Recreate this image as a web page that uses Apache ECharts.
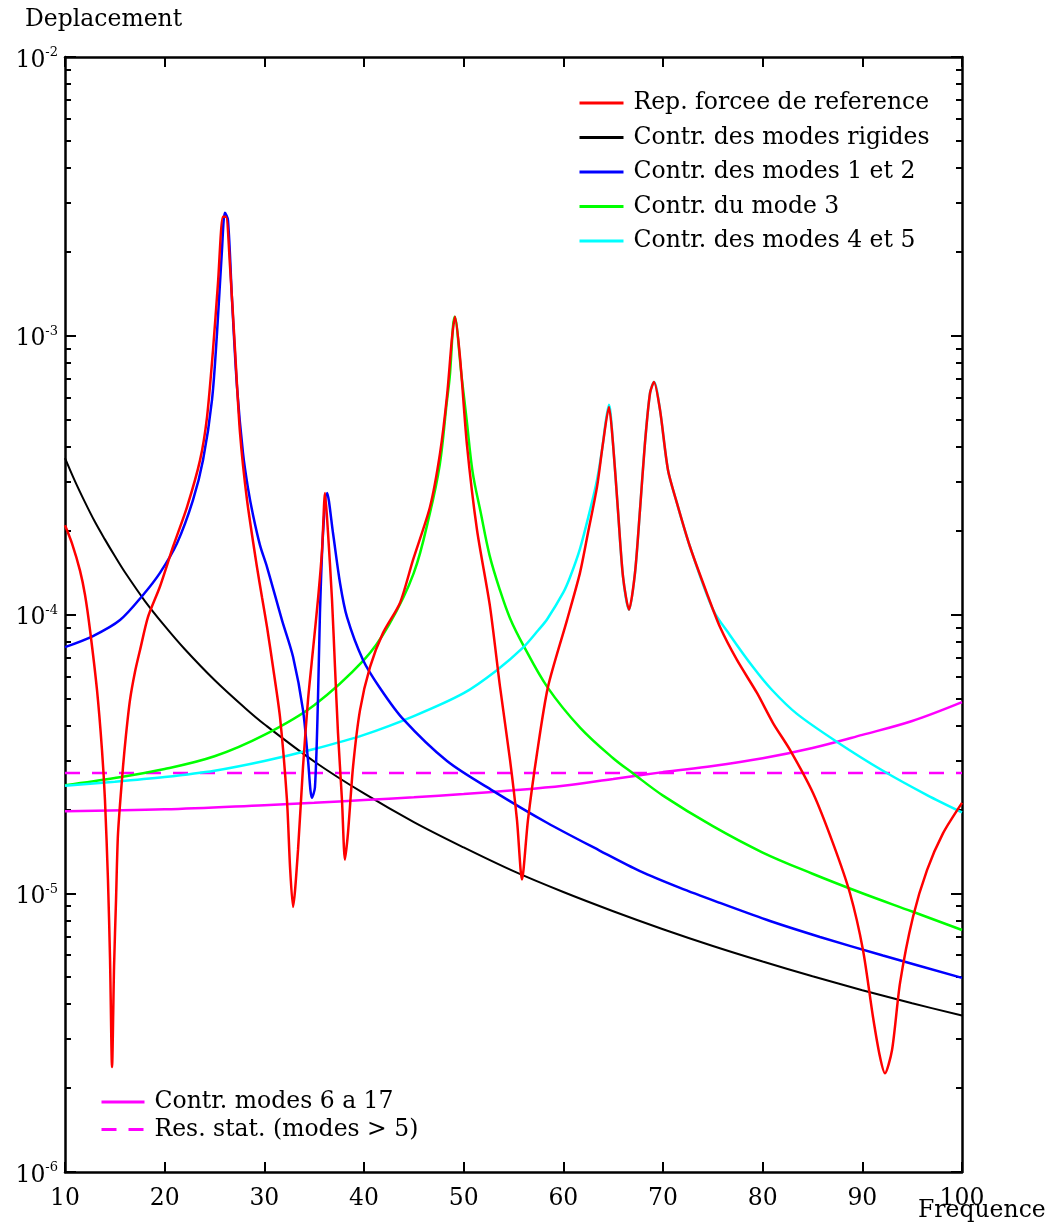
<!DOCTYPE html>
<html><head><meta charset="utf-8">
<script src="https://cdn.jsdelivr.net/npm/echarts@6/dist/echarts.min.js"></script>
<style>html,body{margin:0;padding:0;background:#fff}#c{width:1055px;height:1227px}</style>
</head><body><div id="c"></div>
<script>
const FONT = '"DejaVu Serif", serif';
const FS = 23.5;

// Frequency axis ticks
const xTicks = [10, 20, 30, 40, 50, 60, 70, 80, 90, 100];
// Log axis minor tick values (2..9 in each decade)
const yMinor = [2e-6,3e-6,4e-6,5e-6,6e-6,7e-6,8e-6,9e-6,
                2e-5,3e-5,4e-5,5e-5,6e-5,7e-5,8e-5,9e-5,
                2e-4,3e-4,4e-4,5e-4,6e-4,7e-4,8e-4,9e-4,
                2e-3,3e-3,4e-3,5e-3,6e-3,7e-3,8e-3,9e-3];

// Rep. forcee de reference (red)
const redF = [10.00,10.70,11.50,12.01,12.51,13.21,13.71,14.01,14.31,14.52,14.72,14.92,15.12,15.32,15.82,16.12,16.52,17.02,17.53,18.33,19.53,20.84,22.24,23.55,24.25,24.85,25.35,25.85,26.15,26.56,27.06,27.56,28.26,29.26,29.77,30.27,30.87,31.57,32.27,32.58,32.88,33.38,33.88,34.38,34.88,35.38,35.79,36.09,36.39,36.79,37.09,37.39,37.79,38.09,38.39,38.90,39.60,40.60,41.91,43.61,44.92,46.62,47.63,48.33,48.83,49.13,49.63,50.33,51.34,52.64,53.65,54.65,55.35,55.85,56.45,57.36,58.46,60.37,61.67,62.47,63.38,63.98,64.58,64.98,65.48,65.99,66.59,67.19,67.69,68.19,68.70,69.10,69.70,70.50,71.40,72.71,74.41,75.72,77.42,79.43,81.04,82.74,85.05,87.06,88.76,90.07,91.07,91.77,92.27,92.98,93.78,95.08,96.49,98.09,100];
const redV = [2.09e-4,1.80e-4,1.44e-4,1.175e-4,8.80e-5,5.36e-5,3.27e-5,2.16e-5,1.12e-5,5.77e-6,2.38e-6,5.43e-6,9.46e-6,1.64e-5,2.84e-5,3.70e-5,4.93e-5,6.22e-5,7.46e-5,9.80e-5,1.26e-4,1.75e-4,2.43e-4,3.58e-4,5.11e-4,8.89e-4,1.545e-3,2.67e-3,2.67e-3,1.77e-3,8.89e-4,4.48e-4,2.58e-4,1.48e-4,1.15e-4,9.02e-5,6.48e-5,4.29e-5,2.16e-5,1.24e-5,8.93e-6,1.43e-5,2.84e-5,4.93e-5,7.46e-5,1.13e-4,1.70e-4,2.73e-4,1.96e-4,1.13e-4,6.48e-5,3.76e-5,2.16e-5,1.32e-5,1.64e-5,2.84e-5,4.54e-5,6.48e-5,8.59e-5,1.10e-4,1.57e-4,2.43e-4,3.79e-4,6.08e-4,9.82e-4,1.17e-3,8.39e-4,4.06e-4,2.01e-4,1.07e-4,5.50e-5,3.01e-5,1.83e-5,1.12e-5,1.83e-5,3.18e-5,5.50e-5,9.55e-5,1.41e-4,1.96e-4,2.87e-4,4.12e-4,5.55e-4,4.12e-4,2.37e-4,1.365e-4,1.04e-4,1.41e-4,2.37e-4,4.12e-4,6.23e-4,6.83e-4,5.42e-4,3.30e-4,2.51e-4,1.75e-4,1.19e-4,9.02e-5,6.87e-5,5.23e-5,4.08e-5,3.27e-5,2.29e-5,1.51e-5,1.00e-5,6.25e-6,3.60e-6,2.59e-6,2.26e-6,2.74e-6,4.76e-6,8.22e-6,1.21e-5,1.64e-5,2.11e-5];

// Contr. des modes rigides (black)
const rigidF = [10,11,12,13,14,15,16,18,20,22,25,28,30,35,40,45,50,55,60,65,70,75,80,85,90,95,100];
const rigidV = [3.64e-4,3.01e-4,2.53e-4,2.15e-4,1.86e-4,1.62e-4,1.42e-4,1.12e-4,9.10e-5,7.52e-5,5.82e-5,4.64e-5,4.04e-5,2.97e-5,2.28e-5,1.80e-5,1.46e-5,1.20e-5,1.01e-5,8.62e-6,7.43e-6,6.47e-6,5.69e-6,5.04e-6,4.49e-6,4.03e-6,3.64e-6];

// Contr. des modes 1 et 2 (blue)
const m12F = [10.00,12.81,15.52,17.83,19.53,21.24,22.84,23.85,24.75,25.25,25.75,26.05,26.35,26.76,27.26,27.86,28.36,28.86,29.57,30.27,31.77,32.88,33.88,34.38,34.78,35.08,35.38,35.58,35.89,36.29,36.89,37.59,38.29,39.90,41.60,43.91,48.33,52.94,58.36,63.68,67.69,71.71,75.72,80.74,85.75,92.07,100];
const m12V = [7.64e-5,8.37e-5,9.55e-5,1.175e-4,1.41e-4,1.80e-4,2.57e-4,3.58e-4,5.89e-4,1.02e-3,2.03e-3,2.76e-3,2.60e-3,1.34e-3,6.54e-4,3.79e-4,2.84e-4,2.28e-4,1.77e-4,1.48e-4,9.55e-5,7.05e-5,4.54e-5,3.01e-5,2.20e-5,2.40e-5,4.93e-5,1.01e-4,1.96e-4,2.73e-4,1.96e-4,1.30e-4,9.80e-5,6.87e-5,5.45e-5,4.22e-5,2.98e-5,2.33e-5,1.79e-5,1.42e-5,1.20e-5,1.045e-5,9.23e-6,7.95e-6,6.97e-6,5.98e-6,4.97e-6];

// Contr. du mode 3 (green)
const m3F = [10,15,20,25,30,35,40,42.5,45,46.6,47.6,48.3,48.6,49.1,49.8,50.3,50.9,51.7,52.6,53.65,54.65,55.95,58.4,61.7,65,67,70,75,80,85,90,95,100];
const m3V = [2.44e-5,2.59e-5,2.79e-5,3.10e-5,3.70e-5,4.73e-5,6.87e-5,9.17e-5,1.41e-4,2.30e-4,3.44e-4,5.74e-4,7.11e-4,1.17e-3,7.11e-4,4.99e-4,3.24e-4,2.33e-4,1.63e-4,1.22e-4,9.7e-5,7.8e-5,5.49e-5,3.92e-5,3.05e-5,2.69e-5,2.24e-5,1.74e-5,1.40e-5,1.175e-5,1.00e-5,8.6e-6,7.38e-6];

// Contr. des modes 4 et 5 (cyan)
const m45F = [10,15,20,25,30,35,40,45,50,53.3,55.95,57.5,58.36,60,60.67,61.67,62.68,63.38,63.88,64.28,64.58,64.98,65.48,65.99,66.59,67.19,67.69,68.19,68.70,69.10,69.70,70.50,71.40,72.71,75.02,76.72,79.03,80.94,83.44,87.46,92.07,96.49,100];
const m45V = [2.43e-5,2.51e-5,2.61e-5,2.75e-5,2.98e-5,3.29e-5,3.70e-5,4.32e-5,5.22e-5,6.3e-5,7.6e-5,8.8e-5,9.6e-5,1.20e-4,1.36e-4,1.72e-4,2.37e-4,3.04e-4,3.89e-4,4.99e-4,5.65e-4,4.12e-4,2.37e-4,1.365e-4,1.04e-4,1.41e-4,2.37e-4,4.12e-4,6.23e-4,6.83e-4,5.42e-4,3.30e-4,2.51e-4,1.75e-4,1.04e-4,8.43e-5,6.48e-5,5.36e-5,4.40e-5,3.49e-5,2.75e-5,2.25e-5,1.95e-5];

// Contr. modes 6 a 17 (magenta)
const m617F = [10,20,30,35,40,45,50,55,60,65,70,75,80,85,90,95,100];
const m617V = [1.97e-5,2.00e-5,2.07e-5,2.11e-5,2.16e-5,2.21e-5,2.27e-5,2.34e-5,2.43e-5,2.57e-5,2.72e-5,2.86e-5,3.05e-5,3.32e-5,3.70e-5,4.15e-5,4.85e-5];

// Res. stat. (modes > 5) (magenta dashed)
const resF = [10, 100];
const resV = [2.70e-5, 2.70e-5];

const zip = (a, b) => a.map((x, i) => [x, b[i]]);

const chart = echarts.init(document.getElementById('c'), null, {renderer: 'canvas'});

const axisLineStyle = {color: '#000', width: 2.5};
const tickStyle = {color: '#000', width: 2};

function logAxis(pos, major) {
  return {
    type: 'log', logBase: 10, min: 1e-6, max: 1e-2, position: pos,
    axisLine: {show: major, onZero: false, lineStyle: axisLineStyle},
    axisTick: major ? {show: true, inside: true, length: 11, lineStyle: tickStyle}
                    : {show: true, inside: true, length: 6, lineStyle: tickStyle, customValues: yMinor},
    axisLabel: (major && pos === 'left') ? {
      show: true, margin: 7, padding: [7, 0, 0, 0],
      formatter: v => '{b|10}{s|' + Math.round(Math.log10(v)) + '}',
      rich: {
        b: {fontFamily: FONT, fontSize: FS, color: '#000', lineHeight: 28},
        s: {fontFamily: FONT, fontSize: 13, color: '#000', verticalAlign: 'top', lineHeight: 14}
      }
    } : {show: false},
    splitLine: {show: false},
    minorTick: {show: false}
  };
}

function xAxisDef(pos) {
  return {
    type: 'value', min: 10, max: 100, interval: 10, position: pos,
    axisLine: {show: true, onZero: false, lineStyle: axisLineStyle},
    axisTick: {show: true, inside: true, length: 10, lineStyle: tickStyle},
    axisLabel: pos === 'bottom' ? {show: true, fontFamily: FONT, fontSize: FS, color: '#000', margin: 15,
      formatter: v => (xTicks.indexOf(v) >= 0 ? String(v) : '')} : {show: false},
    splitLine: {show: false}
  };
}

function lineSeries(name, data, color, width, extra) {
  return Object.assign({
    name, type: 'line', data, symbol: 'none', showSymbol: false,
    xAxisIndex: 0, yAxisIndex: 0,
    lineStyle: {color, width}, itemStyle: {color},
    emphasis: {disabled: true}, animation: false
  }, extra || {});
}

const legendText = {fontFamily: FONT, fontSize: FS, color: '#000', padding: [0, 0, 0, 5]};

chart.setOption({
  backgroundColor: '#fff',
  animation: false,
  title: [
    {text: 'Deplacement', left: 25, top: 8, padding: 0,
     textStyle: {fontFamily: FONT, fontSize: FS, fontWeight: 'normal', color: '#000'}},
    {text: 'Frequence', left: 918, top: 1199, padding: 0,
     textStyle: {fontFamily: FONT, fontSize: FS, fontWeight: 'normal', color: '#000'}}
  ],
  grid: {left: 65, right: 93, top: 57, bottom: 55, containLabel: false},
  xAxis: [xAxisDef('bottom'), xAxisDef('top')],
  yAxis: [logAxis('left', true), logAxis('left', false), logAxis('right', true), logAxis('right', false)],
  legend: [
    {data: ['Rep. forcee de reference', 'Contr. des modes rigides', 'Contr. des modes 1 et 2', 'Contr. du mode 3', 'Contr. des modes 4 et 5'],
     orient: 'vertical', left: 578, top: 91, padding: 0, itemGap: 10.5, itemWidth: 44, itemHeight: 14,
     itemStyle: {opacity: 0}, lineStyle: {width: 3}, selectedMode: false, textStyle: legendText},
    {data: ['Contr. modes 6 a 17', 'Res. stat. (modes > 5)'],
     orient: 'vertical', left: 100, top: 1090, padding: 0, itemGap: 3.5, itemWidth: 43, itemHeight: 14,
     itemStyle: {opacity: 0}, lineStyle: {width: 3}, selectedMode: false, textStyle: legendText}
  ],
  series: [
    lineSeries('Contr. des modes rigides', zip(rigidF, rigidV), '#000000', 2, {smooth: 0.35}),
    lineSeries('Contr. modes 6 a 17', zip(m617F, m617V), '#ff00ff', 2.5, {smooth: 0.35}),
    lineSeries('Res. stat. (modes > 5)', zip(resF, resV), '#ff00ff', 2.5, {lineStyle: {color: '#ff00ff', width: 2.5, type: [15, 12]}}),
    lineSeries('Contr. du mode 3', zip(m3F, m3V), '#00ff00', 2.5, {smooth: 0.35}),
    lineSeries('Contr. des modes 4 et 5', zip(m45F, m45V), '#00ffff', 2.5, {smooth: 0.3}),
    lineSeries('Contr. des modes 1 et 2', zip(m12F, m12V), '#0000ff', 2.5, {smooth: 0.3}),
    lineSeries('Rep. forcee de reference', zip(redF, redV), '#ff0000', 2.5, {smooth: 0.25})
  ]
});
</script>
</body></html>
